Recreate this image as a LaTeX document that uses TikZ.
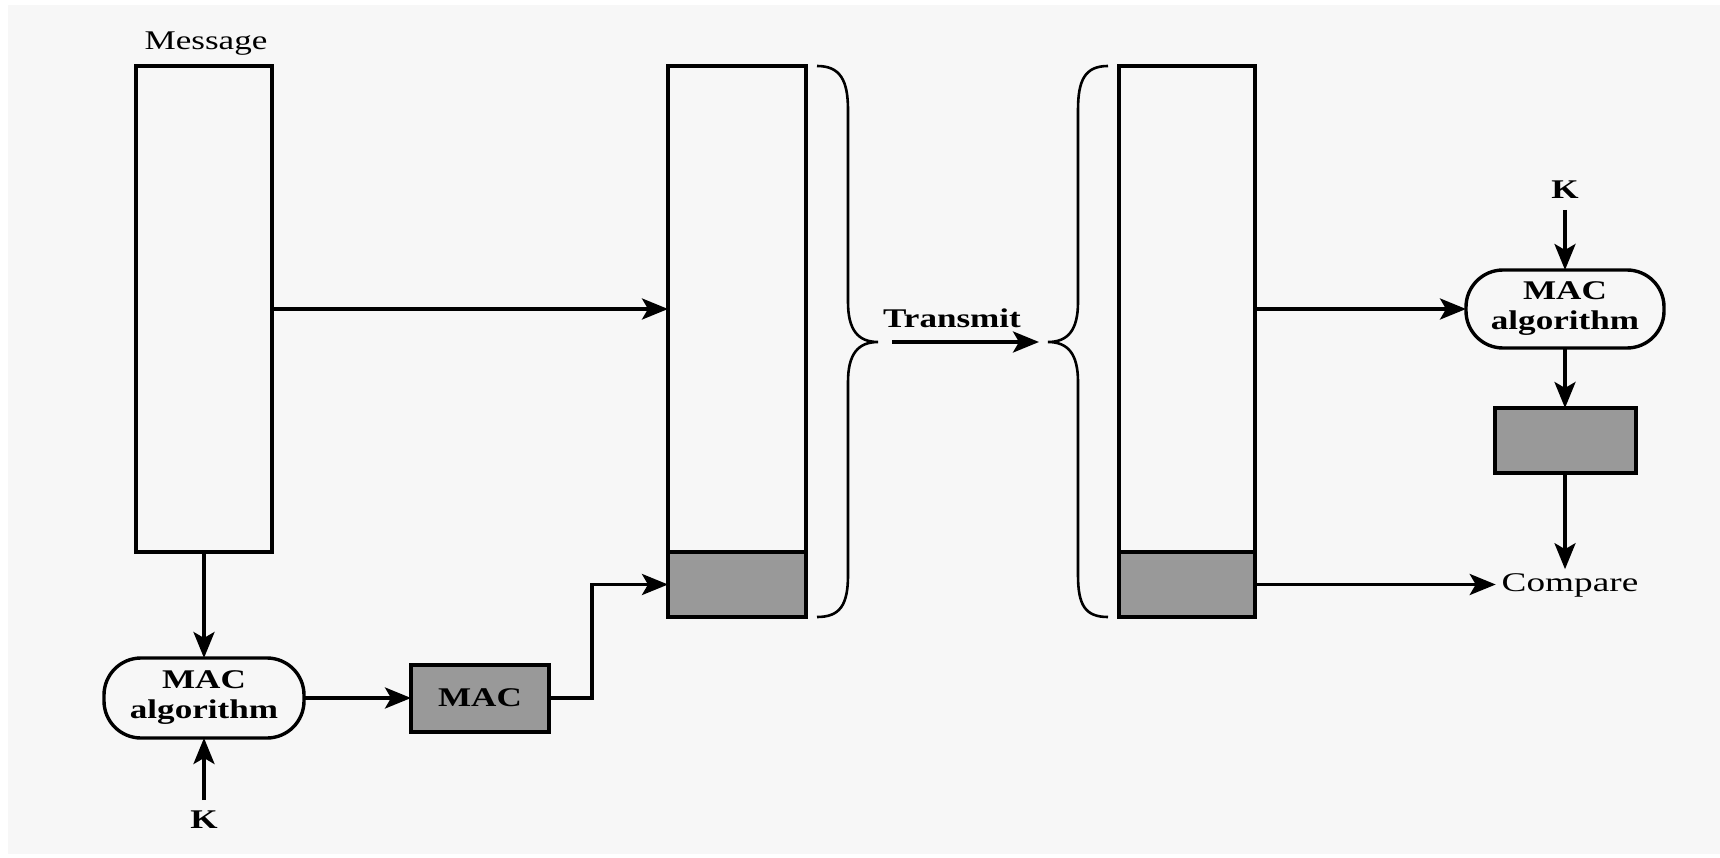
\documentclass[tikz,border=0pt]{standalone}
\usepackage{fontspec}
\usepackage{graphicx}
\setmainfont{Liberation Serif}
\usetikzlibrary{arrows.meta,calc}
\newcommand{\wide}[2][1.3]{\scalebox{#1}[1]{#2}}
\definecolor{bg}{HTML}{F7F7F7}
\definecolor{macgray}{HTML}{999999}
\tikzset{
  every node/.style={font=\fontsize{27}{30}\selectfont, inner sep=0pt, outer sep=0pt},
  blockbox/.style={draw=black, line width=4pt, fill=bg, inner sep=0pt},
  graybox/.style={draw=black, line width=4pt, fill=macgray, inner sep=0pt},
  algbox/.style={draw=black, line width=3.4pt, fill=bg, rounded corners=37pt,
    minimum width=200pt, minimum height=80pt, align=center, font=\fontsize{27}{30}\selectfont\bfseries},
  arr/.style={line width=3.5pt, -{Stealth[length=26pt, width=21pt, inset=6pt]}},
  bracepath/.style={line width=2.6pt},
  lbl/.style={font=\fontsize{27}{30}\selectfont},
  blbl/.style={font=\fontsize{27}{30}\selectfont\bfseries}
}
\begin{document}
\begin{tikzpicture}[x=1pt,y=-1pt]
\useasboundingbox (0,0) rectangle (1720,858);
\fill[white] (0,0) rectangle (1720,858);
\fill[bg] (8,5) rectangle (1720,854);

% left side
\node[lbl] (msgl) at (206,44) {\wide[1.3]{Message}};
\node[blockbox, minimum width=136pt, minimum height=486pt] (msg) at (204,309) {};
\node[algbox] (algL) at (204,698) {\wide{MAC}\\\wide{algorithm}};
\node[blbl] (kL) at (204,820) {\wide{K}};
\node[graybox, minimum width=138pt, minimum height=67pt, font=\fontsize{27}{30}\selectfont\bfseries] (mac) at (480,698) {\wide[1.3]{MAC}};

% middle boxes
\node[blockbox, minimum width=138pt, minimum height=486pt] (b2top) at (737,309) {};
\node[graybox, minimum width=138pt, minimum height=65pt] (b2bot) at (737,584.5) {};
\node[blockbox, minimum width=136pt, minimum height=486pt] (b3top) at (1187,309) {};
\node[graybox, minimum width=136pt, minimum height=65pt] (b3bot) at (1187,584.5) {};

% braces
\draw[bracepath] (817,66) .. controls (840,66) and (848,80) .. (848,110) -- (848,302)
  .. controls (848,330) and (858,342) .. (878,342)
  .. controls (858,342) and (848,354) .. (848,382) -- (848,575)
  .. controls (848,605) and (840,617) .. (817,617);
\draw[bracepath] (1108,66) .. controls (1085,66) and (1078,80) .. (1078,110) -- (1078,302)
  .. controls (1078,330) and (1068,342) .. (1048,342)
  .. controls (1068,342) and (1078,354) .. (1078,382) -- (1078,575)
  .. controls (1078,605) and (1085,617) .. (1108,617);

\node[blbl] (tr) at (952,318) {\wide{Transmit}};
\coordinate (tA) at (892,342);
\coordinate (tB) at (1039,342);
\draw[arr] (tA) -- (tB);

% right side
\node[blbl] (kR) at (1565,190) {\wide{K}};
\node[algbox, minimum width=198pt, minimum height=78pt] (algR) at (1565,309) {\wide{MAC}\\\wide{algorithm}};
\node[graybox, minimum width=141pt, minimum height=65pt] (grR) at (1565,440.5) {};
\node[lbl] (cmp) at (1570,585) {\wide[1.38]{Compare}};

% connectors
\draw[arr] (msg.east |- 0,309) -- (b2top.west);
\draw[arr] (msg.south) -- (algL.north);
\draw[arr, shorten <=11pt] (kL.north) -- (algL.south);
\draw[arr] (algL.east) -- (mac.west);
\coordinate (bend) at (592,698);
\draw[arr] (mac.east) -- (bend) |- (b2bot.west);
\draw[arr] (b3top.east) -- (algR.west);
\draw[arr, shorten <=11pt] (kR.south) -- (algR.north);
\draw[arr] (algR.south) -- (grR.north);
\draw[arr, shorten >=4pt] (grR.south) -- (grR.south |- cmp.north);
\draw[arr, shorten >=6pt] (b3bot.east) -- (b3bot.east -| cmp.west);
\end{tikzpicture}
\end{document}
